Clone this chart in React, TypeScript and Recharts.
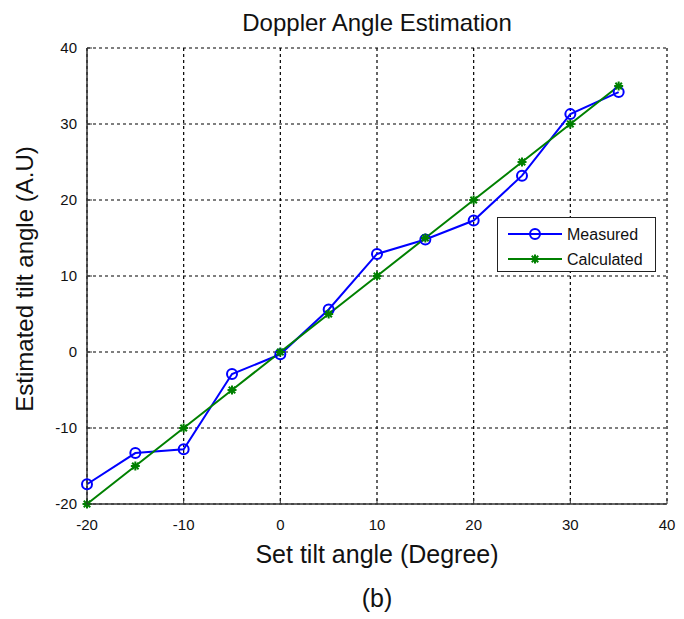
import React from "react";
import {
  LineChart,
  Line,
  XAxis,
  YAxis,
  CartesianGrid,
} from "recharts";

// set tilt angles (degrees)
const angles = [-20, -15, -10, -5, 0, 5, 10, 15, 20, 25, 30, 35];
// estimated angle from the measurement
const measured = [-17.4, -13.3, -12.8, -2.9, -0.3, 5.6, 12.9, 14.8, 17.3, 23.2, 31.3, 34.2];
// theoretical angle
const calculated = [-20, -15, -10, -5, 0, 5, 10, 15, 20, 25, 30, 35];

const xTicks = [-20, -10, 0, 10, 20, 30, 40];
const yTicks = [-20, -10, 0, 10, 20, 30, 40];

const data = angles.map((a, i) => ({
  angle: a,
  measured: measured[i],
  calculated: calculated[i],
}));

const BLUE = "#0000ff";
const GREEN = "#008000";
const FONT = "Arial, 'Liberation Sans', sans-serif";

// MATLAB-like asterisk marker
function Star({ cx, cy, color }: { cx: number; cy: number; color: string }) {
  const r = 4.5;
  const d = r * 0.72;
  return (
    <g stroke={color} strokeWidth={2}>
      <line x1={cx - r} y1={cy} x2={cx + r} y2={cy} />
      <line x1={cx} y1={cy - r} x2={cx} y2={cy + r} />
      <line x1={cx - d} y1={cy - d} x2={cx + d} y2={cy + d} />
      <line x1={cx - d} y1={cy + d} x2={cx + d} y2={cy - d} />
    </g>
  );
}

const BottomTick = (props: any) => {
  const { x, y, payload } = props;
  return (
    <g>
      <line x1={x} y1={y} x2={x} y2={y - 5} stroke="#333" />
      <text x={x} y={y + 26} textAnchor="middle" fontSize={15} fill="#111" fontFamily={FONT}>
        {payload.value}
      </text>
    </g>
  );
};

const LeftTick = (props: any) => {
  const { x, y, payload } = props;
  return (
    <g>
      <line x1={x} y1={y} x2={x + 5} y2={y} stroke="#333" />
      <text x={x - 10} y={y + 5} textAnchor="end" fontSize={15} fill="#111" fontFamily={FONT}>
        {payload.value}
      </text>
    </g>
  );
};

const TopTick = (props: any) => {
  const { x, y } = props;
  return <line x1={x} y1={y} x2={x} y2={y + 5} stroke="#333" />;
};

const RightTick = (props: any) => {
  const { x, y } = props;
  return <line x1={x} y1={y} x2={x - 5} y2={y} stroke="#333" />;
};

function LegendBox() {
  return (
    <div
      style={{
        position: "absolute",
        left: 497,
        top: 217,
        width: 159,
        height: 55,
        boxSizing: "border-box",
        border: "1px solid #222",
        background: "#fff",
      }}
    >
      <svg width={157} height={53} style={{ display: "block" }}>
        <line x1={10} y1={16} x2={64} y2={16} stroke={BLUE} strokeWidth={2} />
        <circle cx={37} cy={16} r={5} fill="none" stroke={BLUE} strokeWidth={2} />
        <text x={69} y={22} fontSize={16} fill="#111" fontFamily={FONT}>
          Measured
        </text>
        <line x1={10} y1={41} x2={64} y2={41} stroke={GREEN} strokeWidth={2} />
        <Star cx={37} cy={41} color={GREEN} />
        <text x={69} y={47} fontSize={16} fill="#111" fontFamily={FONT}>
          Calculated
        </text>
      </svg>
    </div>
  );
}

export default function App() {
  return (
    <div
      style={{
        position: "absolute",
        left: 0,
        top: 0,
        width: 684,
        height: 619,
        background: "#fff",
        fontFamily: FONT,
      }}
    >
      <LineChart
        width={684}
        height={619}
        data={data}
        margin={{ top: 48, right: 17, left: 27, bottom: 85 }}
      >
        <CartesianGrid stroke="#000" strokeDasharray="3 3" strokeWidth={1.2} />
        <XAxis
          dataKey="angle"
          type="number"
          domain={[-20, 40]}
          ticks={xTicks}
          height={30}
          tickSize={0}
          tickMargin={0}
          tickLine={false}
          axisLine={{ stroke: "#333", strokeWidth: 1.5 }}
          tick={BottomTick}
        />
        <XAxis
          xAxisId="top"
          orientation="top"
          dataKey="angle"
          type="number"
          domain={[-20, 40]}
          ticks={xTicks}
          height={0}
          tickSize={0}
          tickMargin={0}
          tickLine={false}
          axisLine={{ stroke: "#333", strokeWidth: 1.5 }}
          tick={TopTick}
        />
        <YAxis
          type="number"
          domain={[-20, 40]}
          ticks={yTicks}
          width={60}
          tickSize={0}
          tickMargin={0}
          tickLine={false}
          axisLine={{ stroke: "#333", strokeWidth: 1.5 }}
          tick={LeftTick}
        />
        <YAxis
          yAxisId="right"
          orientation="right"
          type="number"
          domain={[-20, 40]}
          ticks={yTicks}
          width={0}
          tickSize={0}
          tickMargin={0}
          tickLine={false}
          axisLine={{ stroke: "#333", strokeWidth: 1.5 }}
          tick={RightTick}
        />
        <Line
          dataKey="measured"
          stroke={BLUE}
          strokeWidth={2}
          isAnimationActive={false}
          dot={(p: any) => (
            <circle key={`m${p.index}`} cx={p.cx} cy={p.cy} r={5} fill="none" stroke={BLUE} strokeWidth={2} />
          )}
        />
        <Line
          dataKey="calculated"
          stroke={GREEN}
          strokeWidth={2}
          isAnimationActive={false}
          dot={(p: any) => <Star key={`c${p.index}`} cx={p.cx} cy={p.cy} color={GREEN} />}
        />
      </LineChart>

      <LegendBox />

      <div
        style={{
          position: "absolute",
          left: 0,
          width: 754,
          top: 9,
          textAlign: "center",
          fontSize: 24,
          color: "#111",
        }}
      >
        Doppler Angle Estimation
      </div>
      <div
        style={{
          position: "absolute",
          left: 0,
          width: 754,
          top: 540,
          textAlign: "center",
          fontSize: 25,
          color: "#111",
        }}
      >
        Set tilt angle (Degree)
      </div>
      <div
        style={{
          position: "absolute",
          left: 0,
          width: 754,
          top: 584,
          textAlign: "center",
          fontSize: 25,
          color: "#111",
        }}
      >
        (b)
      </div>
      <div
        style={{
          position: "absolute",
          left: 25,
          top: 279,
          transform: "translate(-50%, -50%) rotate(-90deg)",
          whiteSpace: "nowrap",
          fontSize: 24,
          color: "#111",
        }}
      >
        Estimated tilt angle (A.U)
      </div>
    </div>
  );
}
